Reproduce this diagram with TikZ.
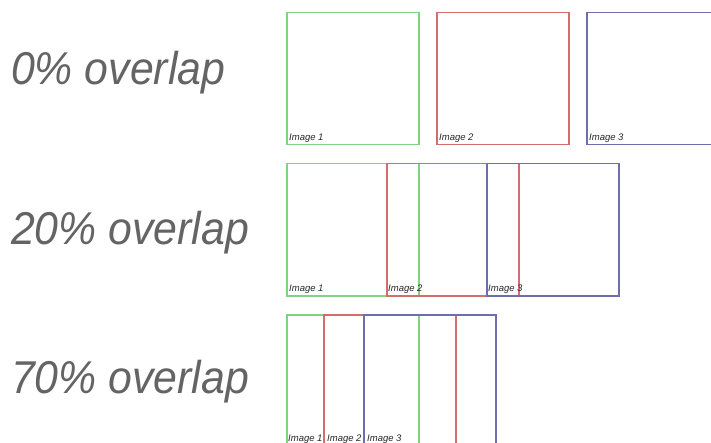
\documentclass[tikz,border=0pt]{standalone}
\usepackage{fontspec}
\setmainfont{Liberation Sans}
\newfontfamily\thinfont{Liberation Sans}
\newfontfamily\labelfont{Liberation Sans}
\definecolor{gbox}{RGB}{130,210,130}
\definecolor{rbox}{RGB}{210,110,110}
\definecolor{bbox}{RGB}{110,110,170}
\definecolor{txt}{RGB}{40,40,40}
\definecolor{ttl}{RGB}{100,100,100}
\tikzset{
  imgbox/.style={draw=#1, line width=1.5pt, rectangle, minimum width=132pt, minimum height=132pt, inner sep=0pt, anchor=north west},
  imglabel/.style={anchor=base west, inner sep=0pt, font=\labelfont\itshape\fontsize{9.5}{10}\selectfont, text=txt},
  bigtitle/.style={anchor=base west, inner sep=0pt, xscale=0.93, font=\thinfont\itshape\fontsize{46}{48}\selectfont, text=ttl}
}
\begin{document}
\begin{tikzpicture}[x=1pt,y=-1pt]
\useasboundingbox (0,0) rectangle (711,443);
\clip (0,0) rectangle (711,443);
\fill[white] (0,0) rectangle (711,443);
% titles
\node[bigtitle] (t0) at (11,85) {0\% overlap};
\node[bigtitle] (t20) at (11,245) {20\% overlap};
\node[bigtitle] (t70) at (11,393) {70\% overlap};
% row 1
\node[imgbox=gbox] (a1) at (286,12) {};
\node[imgbox=rbox] (a2) at (436,12) {};
\node[imgbox=bbox] (a3) at (586,12) {};
\node[imglabel] (la1) at (289,141) {Image 1};
\node[imglabel] (la2) at (439,141) {Image 2};
\node[imglabel] (la3) at (589,141) {Image 3};
% row 2
\node[imgbox=gbox] (b1) at (286,163) {};
\node[imgbox=rbox] (b2) at (386,163) {};
\node[imgbox=bbox] (b3) at (486,163) {};
\node[imglabel] (lb1) at (289,291) {Image 1};
\node[imglabel] (lb2) at (388,291) {Image 2};
\node[imglabel] (lb3) at (488,291) {Image 3};
% row 3
\node[imgbox=gbox] (c1) at (286,314) {};
\node[imgbox=rbox] (c2) at (323,314) {};
\node[imgbox=bbox] (c3) at (363,314) {};
\node[imglabel] (lc1) at (288,441) {Image 1};
\node[imglabel] (lc2) at (327,441) {Image 2};
\node[imglabel] (lc3) at (367,441) {Image 3};
\end{tikzpicture}
\end{document}
